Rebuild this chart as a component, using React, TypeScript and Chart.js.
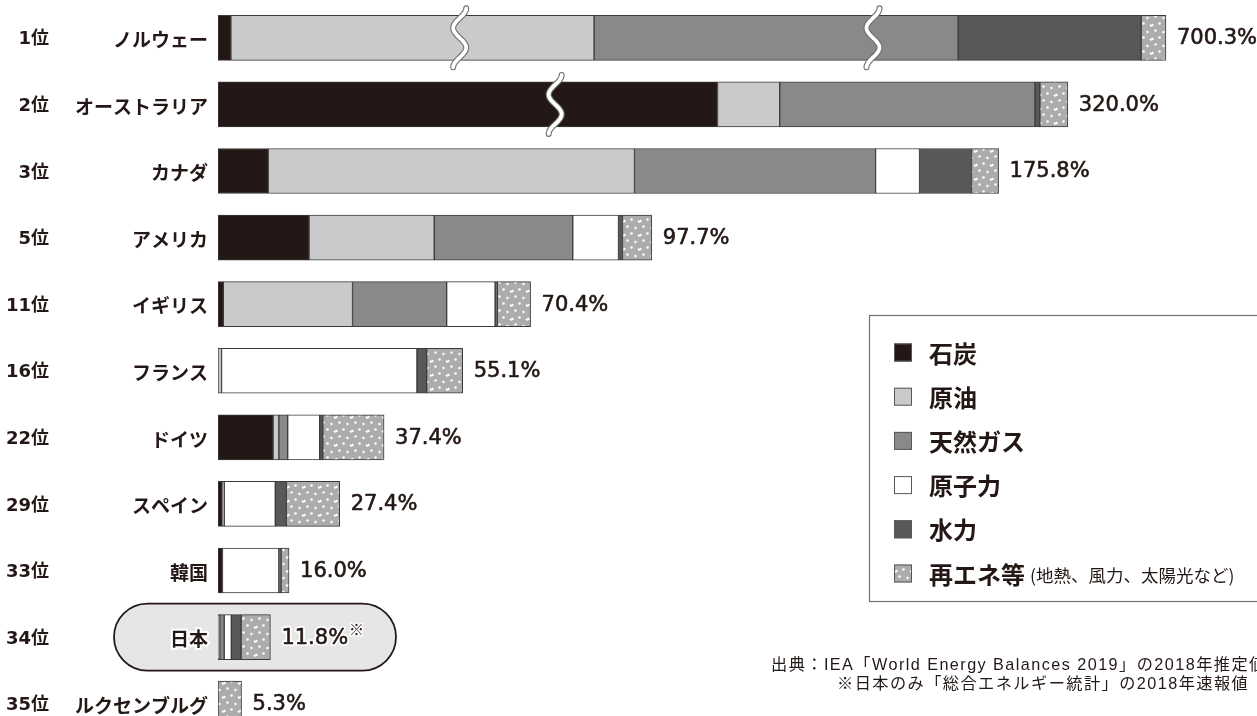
import React, { useEffect, useRef } from 'react';
import { Chart, registerables } from 'chart.js';

Chart.register(...registerables);

// 順位と国名
const ranks = ['1位', '2位', '3位', '5位', '11位', '16位', '22位', '29位', '33位', '34位', '35位'];
const countries = ['ノルウェー', 'オーストラリア', 'カナダ', 'アメリカ', 'イギリス', 'フランス', 'ドイツ', 'スペイン', '韓国', '日本', 'ルクセンブルグ'];

// エネルギー自給率の内訳（%）
const coal = [2.9, 241.1, 11.3, 20.5, 1.2, 0, 12.4, 0.9, 1.0, 0, 0];
const crudeOil = [305.2, 14.0, 82.5, 28.2, 29.1, 0.8, 1.3, 0.5, 0, 0.4, 0];
const naturalGas = [345.4, 57.5, 54.3, 31.2, 21.2, 0, 2.0, 0, 0, 1.0, 0];
const nuclear = [0, 0, 9.9, 10.3, 10.9, 44.0, 7.2, 11.5, 12.7, 1.6, 0];
const hydro = [41.2, 1.1, 11.7, 0.9, 0.5, 2.2, 0.7, 2.5, 0.5, 2.2, 0];
const renewables = [5.6, 6.3, 6.1, 6.6, 7.5, 8.1, 13.8, 12.0, 1.8, 6.6, 5.3];

// 波線で省略して描く量（%）
const coalOmitted = [0, 128.6, 0, 0, 0, 0, 0, 0, 0, 0, 0];
const oilOmitted = [223.4, 0, 0, 0, 0, 0, 0, 0, 0, 0, 0];
const gasOmitted = [263.4, 0, 0, 0, 0, 0, 0, 0, 0, 0, 0];

const seriesLabels = ['石炭', '原油', '天然ガス', '原子力', '水力', '再エネ等'];
const legendNote = '(地熱、風力、太陽光など)';
const japanMark = '※';
const sourceLines = [
  '出典：IEA「World Energy Balances 2019」の2018年推定値',
  '※日本のみ「総合エネルギー統計」の2018年速報値',
];

const INK = '#231815';
const EDGE = '#3e3a39';
const JP = '"Noto Sans CJK JP", "Noto Sans CJK SC", sans-serif';
const NUM = '"DejaVu Sans", "Noto Sans CJK JP", sans-serif';
const NOTE = '"Liberation Sans", "Noto Sans CJK JP", sans-serif';

// 波線の位置（省略したセグメント内の割合）
const breakMarks = [
  { row: 0, series: 1, frac: 0.63 },
  { row: 0, series: 2, frac: 0.766 },
  { row: 1, series: 0, frac: 0.675 },
];
const HIGHLIGHT_ROW = 9;

function makeDotPattern(): CanvasPattern | string {
  const c = document.createElement('canvas');
  c.width = 16;
  c.height = 14;
  const g = c.getContext('2d');
  if (!g) return '#acacac';
  g.fillStyle = '#acacac';
  g.fillRect(0, 0, 16, 14);
  g.fillStyle = '#ffffff';
  const dots = [
    [3.5, 2.5],
    [11.5, 4],
    [7.5, 9.5],
    [15, 11.5],
    [0.5, 11],
  ];
  dots.forEach(([x, y]) => {
    g.beginPath();
    g.arc(x, y, 1.25, 0, Math.PI * 2);
    g.fill();
  });
  return g.createPattern(c, 'repeat') || '#acacac';
}

function drawBreak(ctx: CanvasRenderingContext2D, cx: number, top: number, bottom: number) {
  const y0 = top - 7;
  const y1 = bottom + 7;
  const path = () => {
    ctx.beginPath();
    for (let i = 0; i <= 60; i++) {
      const t = i / 60;
      const x = cx + 6.5 * Math.cos(3 * Math.PI * t);
      const y = y0 + t * (y1 - y0);
      if (i === 0) ctx.moveTo(x, y);
      else ctx.lineTo(x, y);
    }
  };
  ctx.save();
  ctx.lineCap = 'round';
  ctx.lineJoin = 'round';
  path();
  ctx.strokeStyle = '#6f6f6f';
  ctx.lineWidth = 6;
  ctx.stroke();
  path();
  ctx.strokeStyle = '#ffffff';
  ctx.lineWidth = 3.8;
  ctx.stroke();
  ctx.restore();
}

const values = [coal, crudeOil, naturalGas, nuclear, hydro, renewables];
const omitted = [coalOmitted, oilOmitted, gasOmitted, null, null, null];

const shownValues = values.map((arr, s) =>
  arr.map((v, i) => {
    const cut = omitted[s] ? (omitted[s] as number[])[i] : 0;
    const d = v - cut;
    return d > 0 ? d : null;
  })
);
const realTotals = countries.map((_, i) => values.reduce((a, arr) => a + arr[i], 0));
const shownTotals = countries.map((_, i) => shownValues.reduce((a, arr) => a + (arr[i] || 0), 0));

const decorPlugin = {
  id: 'decor',
  beforeDraw(chart: any) {
    const { ctx } = chart;
    const y = chart.scales.y.getPixelForValue(HIGHLIGHT_ROW);
    const left = 114;
    const right = 396;
    const h = 67;
    const r = h / 2;
    ctx.save();
    ctx.beginPath();
    ctx.moveTo(left + r, y - r);
    ctx.lineTo(right - r, y - r);
    ctx.arc(right - r, y, r, -Math.PI / 2, Math.PI / 2);
    ctx.lineTo(left + r, y + r);
    ctx.arc(left + r, y, r, Math.PI / 2, (3 * Math.PI) / 2);
    ctx.closePath();
    ctx.fillStyle = '#e6e6e6';
    ctx.fill();
    ctx.lineWidth = 1.8;
    ctx.strokeStyle = INK;
    ctx.stroke();
    ctx.restore();
  },
  afterDatasetsDraw(chart: any) {
    const { ctx } = chart;
    const xs = chart.scales.x;
    const ys = chart.scales.y;

    breakMarks.forEach(({ row, series, frac }) => {
      const el = chart.getDatasetMeta(series).data[row];
      if (!el) return;
      const cx = el.base + frac * (el.x - el.base);
      drawBreak(ctx, cx, el.y - el.height / 2, el.y + el.height / 2);
    });

    ctx.save();
    ctx.textBaseline = 'middle';
    ctx.textAlign = 'left';
    ctx.lineJoin = 'round';
    countries.forEach((_, i) => {
      const x = xs.getPixelForValue(shownTotals[i]) + 11;
      const y = ys.getPixelForValue(i) + 1;
      const text = realTotals[i].toFixed(1) + '%';
      ctx.font = `21px ${NUM}`;
      if (i === HIGHLIGHT_ROW) {
        ctx.lineWidth = 4;
        ctx.strokeStyle = '#ffffff';
        ctx.strokeText(text, x, y);
      }
      ctx.fillStyle = INK;
      ctx.fillText(text, x, y);
      ctx.lineWidth = 0.6;
      ctx.strokeStyle = INK;
      ctx.strokeText(text, x, y);
      if (i === HIGHLIGHT_ROW) {
        const w = ctx.measureText(text).width;
        ctx.font = `15px ${JP}`;
        ctx.lineWidth = 3;
        ctx.strokeStyle = '#ffffff';
        ctx.strokeText(japanMark, x + w + 1, y - 9);
        ctx.fillText(japanMark, x + w + 1, y - 9);
      }
    });
    ctx.restore();
  },
  afterDraw(chart: any) {
    const { ctx } = chart;
    ctx.save();
    // 凡例の枠
    ctx.strokeStyle = '#727171';
    ctx.lineWidth = 1.2;
    ctx.strokeRect(869.5, 315.5, 420, 286);

    const datasets = chart.data.datasets;
    ctx.textBaseline = 'middle';
    datasets.forEach((ds: any, k: number) => {
      const cy = 352.5 + k * 44.2;
      ctx.fillStyle = ds.backgroundColor;
      ctx.fillRect(894, cy - 9, 18, 18);
      ctx.strokeStyle = '#595757';
      ctx.lineWidth = 1;
      ctx.strokeRect(894.5, cy - 8.5, 17, 17);
      ctx.fillStyle = INK;
      ctx.font = `bold 24px ${JP}`;
      ctx.fillText(ds.label, 929, cy + 1);
      if (k === datasets.length - 1) {
        const w = ctx.measureText(ds.label).width;
        ctx.font = `17.5px ${JP}`;
        ctx.fillText(legendNote, 929 + w + 5, cy + 2);
      }
    });

    // 出典
    ctx.font = `16.2px ${NOTE}`;
    ctx.fillStyle = INK;
    (ctx as any).letterSpacing = '1.45px';
    ctx.fillText(sourceLines[0], 771, 666);
    ctx.fillText(sourceLines[1], 837, 685);
    ctx.restore();
  },
};

export default function App() {
  const ref = useRef<HTMLCanvasElement | null>(null);

  useEffect(() => {
    const canvas = ref.current;
    if (!canvas) return;
    const dotted = makeDotPattern();
    const fills = ['#231815', '#c9caca', '#898989', '#ffffff', '#595757', dotted];

    const flatten = (width: number) => (s: any) => {
      s.width = width;
      s.paddingTop = 0;
      s.paddingBottom = 0;
    };

    const chart = new Chart(canvas, {
      type: 'bar',
      data: {
        labels: countries,
        datasets: shownValues.map((data, s) => ({
          label: seriesLabels[s],
          data,
          backgroundColor: fills[s] as any,
          borderColor: EDGE,
          borderWidth: 1,
          borderSkipped: false,
          barThickness: 45,
        })),
      },
      options: {
        indexAxis: 'y',
        responsive: false,
        animation: false,
        devicePixelRatio: 1,
        events: [],
        layout: { padding: { top: 4.5, bottom: 8, left: 0, right: 0 } },
        scales: {
          x: { type: 'linear', stacked: true, display: false, min: 0, max: 234 },
          y: {
            type: 'category',
            axis: 'y',
            stacked: true,
            offset: true,
            position: 'left',
            weight: 0,
            grid: { display: false, drawTicks: false },
            border: { display: false },
            ticks: {
              autoSkip: false,
              padding: 10,
              labelOffset: 2,
              color: INK,
              font: { family: JP, size: 19, weight: 'bold' },
              textStrokeColor: '#ffffff',
              textStrokeWidth: (c: any) => (c.index === HIGHLIGHT_ROW ? 4 : 0),
            },
            afterFit: flatten(158),
          },
          rank: {
            type: 'category',
            axis: 'y',
            labels: ranks,
            offset: true,
            position: 'left',
            weight: 1,
            grid: { display: false, drawTicks: false },
            border: { display: false },
            ticks: {
              autoSkip: false,
              padding: 11,
              labelOffset: 2,
              color: INK,
              font: { family: NUM, size: 18, weight: 'bold' },
            },
            afterFit: flatten(60),
          },
        } as any,
        plugins: {
          legend: { display: false },
          tooltip: { enabled: false },
        },
      },
      plugins: [decorPlugin],
    });

    return () => chart.destroy();
  }, []);

  return (
    <div
      style={{
        position: 'fixed',
        left: 0,
        top: 0,
        width: 1257,
        height: 716,
        overflow: 'hidden',
        background: '#ffffff',
      }}
    >
      <canvas ref={ref} width={1257} height={745} style={{ display: 'block' }} />
    </div>
  );
}
